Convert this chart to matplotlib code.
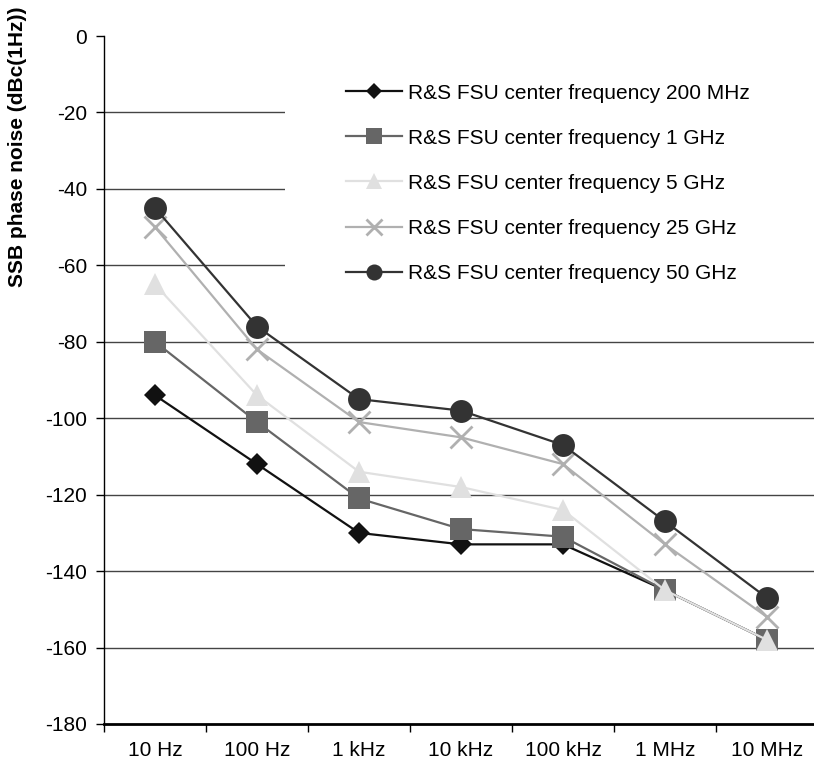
import matplotlib
matplotlib.use("Agg")
import matplotlib.pyplot as plt
from matplotlib.ticker import FixedLocator
from matplotlib.patches import Rectangle

plt.rcParams['font.family'] = ['Liberation Sans', 'DejaVu Sans']
plt.rcParams['axes.unicode_minus'] = False

offsets = ["10 Hz", "100 Hz", "1 kHz", "10 kHz", "100 kHz", "1 MHz", "10 MHz"]

fsu_200mhz = [-94, -112, -130, -133, -133, -145, -158]
fsu_1ghz = [-80, -101, -121, -129, -131, -145, -158]
fsu_5ghz = [-65, -94, -114, -118, -124, -145, -158]
fsu_25ghz = [-50, -82, -101, -105, -112, -133, -152]
fsu_50ghz = [-45, -76, -95, -98, -107, -127, -147]

labels = [
    "R&S FSU center frequency 200 MHz",
    "R&S FSU center frequency 1 GHz",
    "R&S FSU center frequency 5 GHz",
    "R&S FSU center frequency 25 GHz",
    "R&S FSU center frequency 50 GHz",
]

if __name__ == "__main__":
    fig = plt.figure(figsize=(8.14, 7.65), dpi=100)
    ax = fig.add_axes([0.1278, 0.0536, 0.8771, 0.8993])

    x = list(range(len(offsets)))
    styles = [
        (fsu_200mhz, "#111111", "D", 11.5),
        (fsu_1ghz, "#666666", "s", 15.5),
        (fsu_5ghz, "#e0e0e0", "^", 16),
        (fsu_25ghz, "#b0b0b0", "x", 16),
        (fsu_50ghz, "#333333", "o", 16.5),
    ]
    for (vals, col, mk, ms), lab in zip(styles, labels):
        ax.plot(x, vals, color=col, lw=1.6, marker=mk, ms=ms, mew=2 if mk == "x" else 0,
                mec=col, mfc=col, label=lab, zorder=3, clip_on=False)

    ax.set_xlim(-0.5, 6.5)
    ax.set_ylim(-180, 0)
    ax.set_yticks(range(-180, 1, 20))
    ax.set_xticks(x)
    ax.set_xticklabels(offsets)
    ax.xaxis.set_minor_locator(FixedLocator([i - 0.5 for i in range(8)]))
    ax.tick_params(axis="x", which="major", length=0, pad=12, labelsize=15)
    ax.tick_params(axis="x", which="minor", length=6, width=1, direction="out")
    ax.tick_params(axis="y", length=6, width=1, direction="out", labelsize=15, pad=6)

    for v in range(-160, 0, 20):
        ax.axhline(v, color="#444444", lw=1, zorder=1)

    # white legend area hides the grid behind it
    ax.add_patch(Rectangle((0.2535, 0.6235), 0.75, 0.3485, transform=ax.transAxes,
                           facecolor="white", edgecolor="none", zorder=2))

    for s in ["top", "right"]:
        ax.spines[s].set_visible(False)
    ax.spines["bottom"].set_linewidth(2)
    ax.spines["left"].set_linewidth(1)

    fig.text(0.021, 0.808, "SSB phase noise (dBc(1Hz))", rotation=90, fontsize=15,
             fontweight="bold", ha="center", va="center")

    leg = ax.legend(loc="upper left", bbox_to_anchor=(0.415, 0.9015), bbox_transform=fig.transFigure,
                    frameon=False, fontsize=15, handlelength=2.7, handletextpad=0.25,
                    labelspacing=1.25, borderaxespad=0)
    for ln in leg.get_lines():
        ln.set_markersize(ln.get_markersize() * 0.7)

    plt.savefig("out.png", dpi=100)
